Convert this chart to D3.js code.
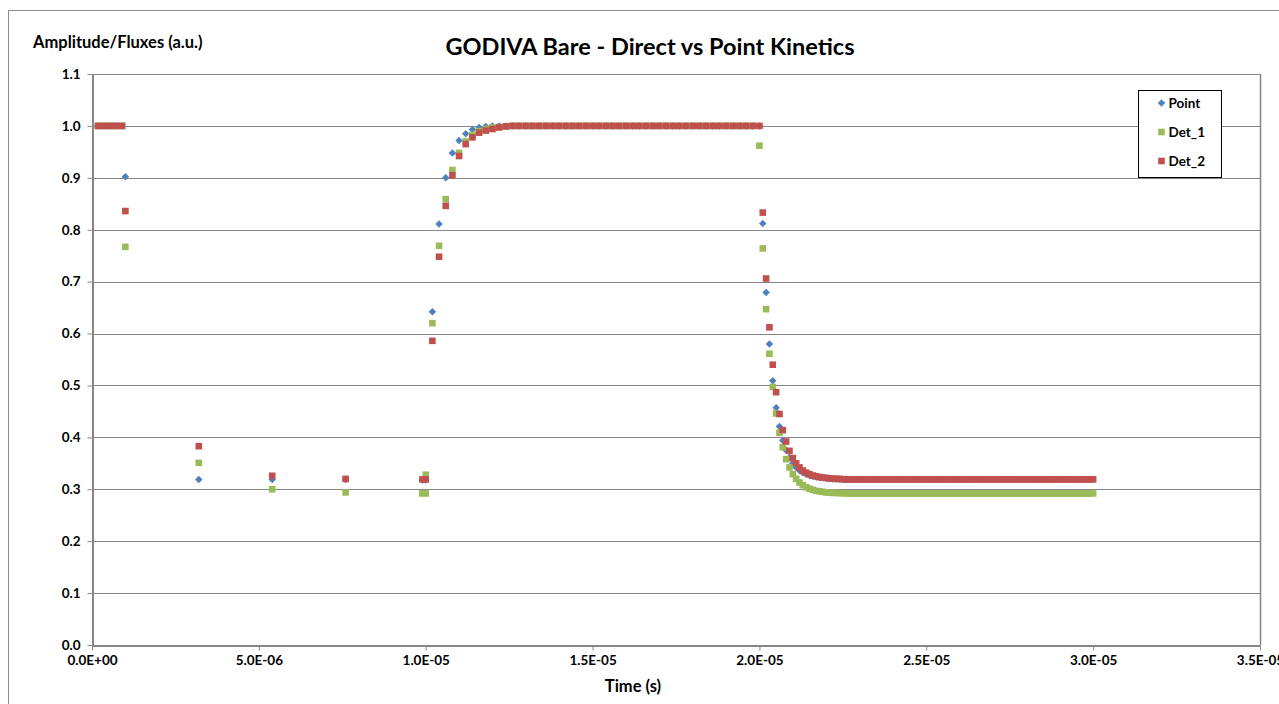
<!DOCTYPE html>
<html>
<head>
<meta charset="utf-8">
<script src="https://cdn.jsdelivr.net/npm/d3@7"></script>
<style>
  html, body { margin: 0; padding: 0; background: #ffffff; }
  svg { display: block; }
  text { font-family: Lato, "Open Sans", "Liberation Sans", sans-serif; }
</style>
</head>
<body>
<svg id="chart" width="1279" height="704"></svg>
<script>
// ---------------- DATA (time in units of 1e-7 s) ----------------
const TIME_UNIT = 1e-7;

const chartTitle = "GODIVA Bare - Direct vs Point Kinetics";
const yAxisTitle = "Amplitude/Fluxes (a.u.)";
const xAxisTitle = "Time (s)";
const seriesNames = ["Point", "Det_1", "Det_2"];

const xTickValues = [0, 5e-6, 1e-5, 1.5e-5, 2e-5, 2.5e-5, 3e-5, 3.5e-5];
const yTickValues = [0, 0.1, 0.2, 0.3, 0.4, 0.5, 0.6, 0.7, 0.8, 0.9, 1.0, 1.1];

// early part (before the second step)
const tEarly      = [1.8, 3.6, 5.4, 7.2, 9, 10, 32, 54, 76, 99, 100];
const tEarlyDet1  = [1.8, 3.6, 5.4, 7.2, 9, 10, 32, 54, 76, 99, 100, 100];
const pointEarly  = [1, 1, 1, 1, 1, 0.902, 0.319, 0.319, 0.319, 0.318, 0.318];
const det1Early   = [1, 1, 1, 1, 1, 0.767, 0.351, 0.300, 0.294, 0.292, 0.292, 0.328];
const det2Early   = [1, 1, 1, 1, 1, 0.836, 0.383, 0.326, 0.320, 0.319, 0.319];

// rise part (step 2e-7)
const tRise = [102,104,106,108,110,112,114,116,118,120,122,124,126,128,130,132,134,136,138,140,
               142,144,146,148,150,152,154,156,158,160,162,164,166,168,170,172,174,176,178,180,
               182,184,186,188,190,192,194,196,198,200];
const pointRise = [0.642,0.811,0.900,0.948,0.972,0.985,0.993,0.997,0.999,1,1,1,1,1,1,1,1,1,1,1,
                   1,1,1,1,1,1,1,1,1,1,1,1,1,1,1,1,1,1,1,1,
                   1,1,1,1,1,1,1,1,1,1];
const det1Rise  = [0.620,0.769,0.859,0.915,0.948,0.970,0.983,0.990,0.994,0.997,0.998,0.999,1,1,1,1,1,1,1,1,
                   1,1,1,1,1,1,1,1,1,1,1,1,1,1,1,1,1,1,1,1,
                   1,1,1,1,1,1,1,1,1,0.962];
const det2Rise  = [0.586,0.748,0.846,0.905,0.942,0.965,0.978,0.987,0.991,0.994,0.997,0.999,1,1,1,1,1,1,1,1,
                   1,1,1,1,1,1,1,1,1,1,1,1,1,1,1,1,1,1,1,1,
                   1,1,1,1,1,1,1,1,1,1];

// fall part (step 1e-7)
const tFall = [201,202,203,204,205,206,207,208,209,210,211,212,213,214,215,216,217,218,219,220,
               221,222,223,224,225,226,227,228,229,230,231,232,233,234,235,236,237,238,239,240,
               241,242,243,244,245,246,247,248,249,250,251,252,253,254,255,256,257,258,259,260,
               261,262,263,264,265,266,267,268,269,270,271,272,273,274,275,276,277,278,279,280,
               281,282,283,284,285,286,287,288,289,290,291,292,293,294,295,296,297,298,299,300];
const pointFall = [0.812,0.679,0.580,0.509,0.457,0.421,0.394,0.375,0.361,0.350,
                   0.342,0.336,0.332,0.329,0.3265,0.325,0.3235,0.3225,0.322,0.321,
                   0.3205,0.320,0.320,0.3195,0.319,0.319,0.319,0.319,0.319,0.319,
                   0.319,0.319,0.319,0.319,0.319,0.319,0.319,0.319,0.319,0.319,
                   0.319,0.319,0.319,0.319,0.319,0.319,0.319,0.319,0.319,0.319,
                   0.319,0.319,0.319,0.319,0.319,0.319,0.319,0.319,0.319,0.319,
                   0.319,0.319,0.319,0.319];
const det1Fall  = [0.764,0.647,0.561,0.497,0.446,0.409,0.381,0.358,0.342,0.329,
                   0.320,0.313,0.308,0.304,0.301,0.299,0.297,0.296,0.295,0.294,
                   0.2935,0.293,0.293,0.2925,0.2925,0.292,0.292,0.292,0.292,0.292,
                   0.292,0.292,0.292,0.292,0.292,0.292,0.292,0.292,0.292,0.292,
                   0.292,0.292,0.292,0.292,0.292,0.292,0.292,0.292,0.292,0.292,
                   0.292,0.292,0.292,0.292,0.292,0.292,0.292,0.292,0.292,0.292,
                   0.292,0.292,0.292,0.292,0.292,0.292,0.292,0.292,0.292,0.292,
                   0.292,0.292,0.292,0.292,0.292,0.292,0.292,0.292,0.292,0.292,
                   0.292,0.292,0.292,0.292,0.292,0.292,0.292,0.292,0.292,0.292,
                   0.292,0.292,0.292,0.292,0.292,0.292,0.292,0.292,0.292,0.292];
const det2Fall  = [0.833,0.706,0.612,0.540,0.487,0.445,0.414,0.392,0.374,0.360,
                   0.350,0.342,0.336,0.332,0.329,0.3265,0.325,0.3235,0.3225,0.322,
                   0.321,0.3205,0.320,0.320,0.3195,0.319,0.319,0.319,0.319,0.319,
                   0.319,0.319,0.319,0.319,0.319,0.319,0.319,0.319,0.319,0.319,
                   0.319,0.319,0.319,0.319,0.319,0.319,0.319,0.319,0.319,0.319,
                   0.319,0.319,0.319,0.319,0.319,0.319,0.319,0.319,0.319,0.319,
                   0.319,0.319,0.319,0.319,0.319,0.319,0.319,0.319,0.319,0.319,
                   0.319,0.319,0.319,0.319,0.319,0.319,0.319,0.319,0.319,0.319,
                   0.319,0.319,0.319,0.319,0.319,0.319,0.319,0.319,0.319,0.319,
                   0.319,0.319,0.319,0.319,0.319,0.319,0.319,0.319,0.319,0.319];

// ---------------- BUILD SERIES ----------------
function zipSeries(times, values) {
  return values.map((v, i) => ({ t: times[i] * TIME_UNIT, v: v }));
}
const series = [
  { name: seriesNames[0], color: "#4F81BD", shape: "diamond",
    data: [].concat(zipSeries(tEarly, pointEarly), zipSeries(tRise, pointRise), zipSeries(tFall, pointFall)) },
  { name: seriesNames[1], color: "#9BBB59", shape: "square",
    data: [].concat(zipSeries(tEarlyDet1, det1Early), zipSeries(tRise, det1Rise), zipSeries(tFall, det1Fall)) },
  { name: seriesNames[2], color: "#C0504D", shape: "square",
    data: [].concat(zipSeries(tEarly, det2Early), zipSeries(tRise, det2Rise), zipSeries(tFall, det2Fall)) }
];

// ---------------- LAYOUT ----------------
const svg = d3.select("#chart");
const plot = { left: 92, right: 1260, top: 74, bottom: 645 };
const axisColor = "#868686";

const x = d3.scaleLinear().domain([0, 3.5e-5]).range([plot.left, plot.right]);
const y = d3.scaleLinear().domain([0, 1.1]).range([plot.bottom, plot.top]);

// outer chart border
svg.append("rect")
  .attr("x", 8.5).attr("y", 10.5).attr("width", 1300).attr("height", 720)
  .attr("fill", "#ffffff").attr("stroke", "#8c8c8c").attr("stroke-width", 1);

// gridlines
svg.append("g").selectAll("line").data(yTickValues.filter(d => d > 0)).join("line")
  .attr("x1", plot.left).attr("x2", plot.right)
  .attr("y1", d => Math.round(y(d)) + 0.5).attr("y2", d => Math.round(y(d)) + 0.5)
  .attr("stroke", axisColor).attr("stroke-width", 1);

// plot area right border
svg.append("line")
  .attr("x1", plot.right + 0.5).attr("x2", plot.right + 0.5)
  .attr("y1", plot.top).attr("y2", plot.bottom)
  .attr("stroke", axisColor).attr("stroke-width", 1.5);

// exponent formatter 0.0E+00
function sciFmt(d) {
  if (d === 0) return "0.0E+00";
  const e = Math.floor(Math.log10(Math.abs(d)) + 1e-9);
  const m = d / Math.pow(10, e);
  return m.toFixed(1) + "E" + (e < 0 ? "-" : "+") + String(Math.abs(e)).padStart(2, "0");
}

// x axis
const xAxis = svg.append("g")
  .attr("transform", `translate(0,${plot.bottom + 0.5})`)
  .call(d3.axisBottom(x).tickValues(xTickValues).tickFormat(sciFmt).tickSize(5).tickSizeOuter(0).tickPadding(5));
xAxis.select(".domain").attr("stroke", axisColor).attr("stroke-width", 2);
xAxis.selectAll(".tick line").attr("stroke", axisColor);
xAxis.selectAll(".tick text").attr("fill", "#000").style("font-size", "13.5px").style("font-weight", "bold")
  .attr("font-family", null);

// y axis
const yAxis = svg.append("g")
  .attr("transform", `translate(${plot.left + 0.5},0)`)
  .call(d3.axisLeft(y).tickValues(yTickValues).tickFormat(d3.format(".1f")).tickSize(5).tickSizeOuter(0).tickPadding(7));
yAxis.select(".domain").attr("stroke", axisColor).attr("stroke-width", 2);
yAxis.selectAll(".tick line").attr("stroke", axisColor);
yAxis.selectAll(".tick text").attr("fill", "#000").style("font-size", "13.5px").style("font-weight", "bold")
  .attr("font-family", null);

// markers
const diamond = d3.symbol().type(d3.symbolDiamond2).size(36);
function drawMarker(sel, s) {
  if (s.shape === "diamond") {
    sel.append("path").attr("d", diamond()).attr("fill", s.color);
  } else {
    sel.append("rect").attr("x", -3.3).attr("y", -3.3).attr("width", 6.6).attr("height", 6.6).attr("fill", s.color);
  }
}
series.forEach(s => {
  const g = svg.append("g").attr("class", "series");
  g.selectAll("g").data(s.data).join("g")
    .attr("transform", d => `translate(${x(d.t)},${y(d.v)})`)
    .each(function () { drawMarker(d3.select(this), s); });
});

// titles
svg.append("text").attr("x", 650).attr("y", 55).attr("text-anchor", "middle")
  .style("font-size", "23.5px").style("font-weight", "bold").text(chartTitle);
svg.append("text").attr("x", 33).attr("y", 48)
  .style("font-size", "16.5px").style("font-weight", "bold").text(yAxisTitle);
svg.append("text").attr("x", 633).attr("y", 692).attr("text-anchor", "middle")
  .style("font-size", "16.5px").style("font-weight", "bold").text(xAxisTitle);

// legend
const legend = svg.append("g").attr("transform", "translate(1138.5,90.5)");
legend.append("rect").attr("width", 83).attr("height", 87)
  .attr("fill", "#ffffff").attr("stroke", "#000").attr("stroke-width", 1);
series.forEach((s, i) => {
  const row = legend.append("g").attr("transform", `translate(23,${12.5 + i * 29})`);
  drawMarker(row, s);
  row.append("text").attr("x", 7).attr("y", 5)
    .style("font-size", "13.5px").style("font-weight", "bold").text(s.name);
});
</script>
</body>
</html>
